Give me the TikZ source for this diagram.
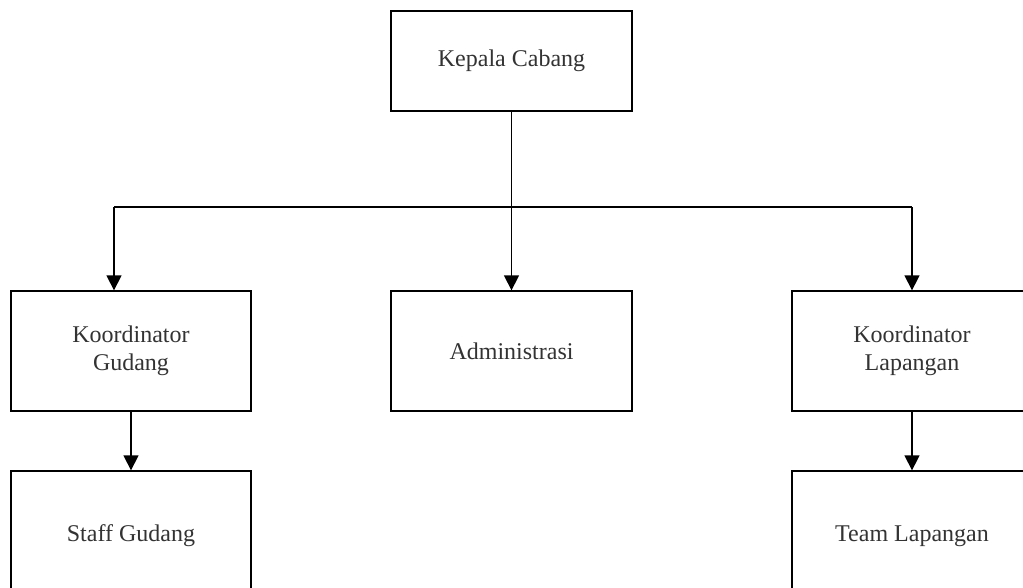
\documentclass[tikz,border=0pt]{standalone}
\usepackage{fontspec}
\setmainfont{Liberation Serif}
\usetikzlibrary{arrows.meta}
\begin{document}
\begin{tikzpicture}[x=1pt,y=-1pt,
  box/.style={draw=black,line width=1.3pt,fill=white,inner sep=0pt,
    text=black!80,align=center,font=\fontsize{24}{28}\selectfont},
  conn/.style={draw=black,line width=1.3pt},
  arr/.style={conn,-{Triangle[length=15pt,width=15pt]}}]
\useasboundingbox (0,0) rectangle (1023,587);
\clip (0,0) rectangle (1023,587);
\fill[white] (0,0) rectangle (1023,587);
\node[box,minimum width=241pt,minimum height=100pt] (kc) at (511.5,61) {Kepala Cabang};
\node[box,minimum width=240pt,minimum height=120pt] (kg) at (131,351) {Koordinator\\Gudang};
\node[box,minimum width=241pt,minimum height=120pt] (adm) at (511.5,351) {Administrasi};
\node[box,minimum width=240pt,minimum height=120pt] (kl) at (912,351) {Koordinator\\Lapangan};
\node[box,minimum width=240pt,minimum height=130pt] (sg) at (131,536) {Staff Gudang};
\node[box,minimum width=240pt,minimum height=130pt] (tl) at (912,536) {Team Lapangan};
\coordinate (jL) at (114,207);
\coordinate (jR) at (912,207);
\coordinate (jM) at (511.5,207);
\draw[conn] (kc.south) -- (jM);
\draw[conn] (jL) -- (jR);
\draw[arr] (jL) -- (jL |- kg.north);
\draw[arr] (jM) -- (adm.north);
\draw[arr] (jR) -- (kl.north);
\draw[arr] (kg.south) -- (sg.north);
\draw[arr] (kl.south) -- (tl.north);
\end{tikzpicture}
\end{document}
